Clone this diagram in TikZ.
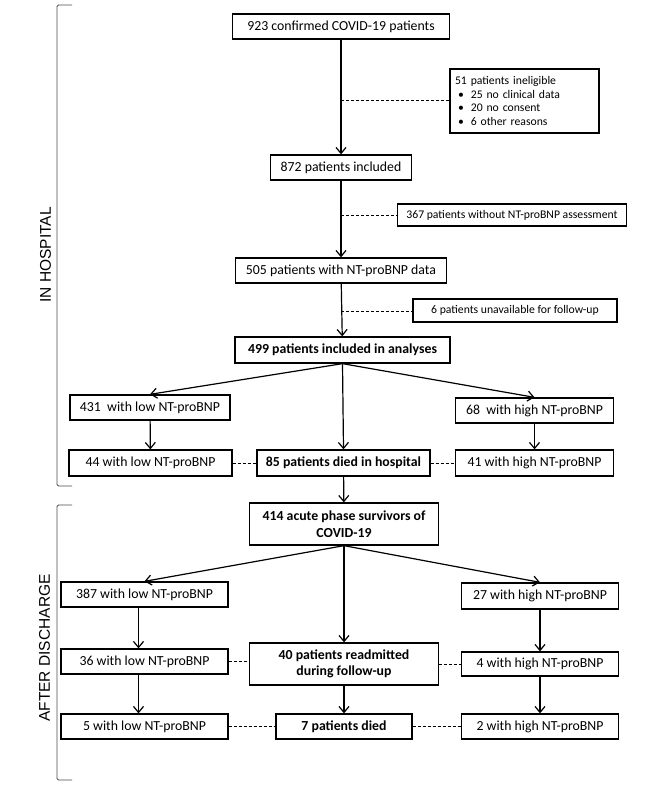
\documentclass[tikz,border=0pt]{standalone}
\usepackage{fontspec}
\setmainfont{Carlito}
\newfontfamily\sidefont{Liberation Sans}
\usetikzlibrary{arrows.meta}

\begin{document}
\begin{tikzpicture}[x=1pt,y=-1pt,
    box/.style={draw,line width=1.3pt,inner sep=2pt,minimum height=25pt,
      font=\fontsize{13.8}{16.5}\selectfont},
    smallbox/.style={box,minimum height=22pt,font=\fontsize{11.7}{13.8}\selectfont},
    arr/.style={line width=1.2pt,-{Straight Barb[length=6pt,width=10pt]}},
    dashline/.style={line width=0.8pt,dash pattern=on 3pt off 2pt},
    brk/.style={line width=0.9pt,gray!60!black,rounded corners=1.5pt},
    side/.style={rotate=90,font=\sidefont\fontsize{15.5}{18}\selectfont}]
      \useasboundingbox (0,0) rectangle (669,791);
      \draw [brk] (72,5) -- (57,5) -- (57,486) -- (72,486);
      \draw [brk] (72,505) -- (57,505) -- (57,780) -- (72,780);
      \node [side] (hosp) at (45.5,255) {IN HOSPITAL};
      \node [side] (disc) at (44.5,648) {AFTER DISCHARGE};
      \node [box,minimum width=217.5pt] (n923) at (341,26.5) {923 confirmed COVID-19 patients};
      \node [smallbox,text width=139pt,minimum height=64pt,align=left,inner sep=5pt] (inel) at (524.5,101)
        {51 patients ineligible\\
         \hspace{3pt}\textbullet\hspace{7pt}25 no clinical data\\
         \hspace{3pt}\textbullet\hspace{7pt}20 no consent\\
         \hspace{3pt}\textbullet\hspace{7pt}6 other reasons};
      \node [box,minimum width=140.5pt] (n872) at (341,167.5) {872 patients included};
      \node [smallbox,minimum width=228.4pt] (n367) at (512,215) {367 patients without NT-proBNP assessment};
      \node [box,minimum width=211.5pt] (n505) at (341,270.5) {505 patients with NT-proBNP data};
      \node [smallbox,minimum width=204pt,minimum height=23pt] (n6) at (515,310.5) {6 patients unavailable for follow-up};
      \node [box,minimum width=215pt,minimum height=26pt] (n499) at (342.5,350) {\textbf{499 patients included in analyses}};
      \node [box,minimum width=160pt] (low1) at (150,407.5) {431\ \ with low NT-proBNP};
      \node [box,minimum width=158pt] (high1) at (534.5,410.5) {68\ \ with high NT-proBNP};
      \node [box,minimum width=163pt,minimum height=26pt] (lowd) at (150.5,463) {44 with low NT-proBNP};
      \node [box,minimum width=173pt,minimum height=26pt] (died) at (343.5,463) {\textbf{85 patients died in hospital}};
      \node [box,minimum width=158pt,minimum height=26pt] (highd) at (534.5,463) {41 with high NT-proBNP};
      \node [box,minimum width=188.4pt,minimum height=42pt,align=center] (surv) at (344,524)
        {\textbf{414 acute phase survivors of}\\\textbf{COVID-19}};
      \node [box,minimum width=167pt] (low2) at (144.5,594.5) {387 with low NT-proBNP};
      \node [box,minimum width=157.6pt,minimum height=26pt] (high2) at (540,596) {27 with high NT-proBNP};
      \node [box,minimum width=167pt] (lowr) at (144.5,661.5) {36 with low NT-proBNP};
      \node [box,minimum width=188.4pt,minimum height=42pt,align=center] (readm) at (344,664)
        {\textbf{40 patients readmitted}\\\textbf{during follow-up}};
      \node [box,minimum width=157.6pt,minimum height=24pt] (highr) at (540,664) {4 with high NT-proBNP};
      \node [box,minimum width=167pt] (lowx) at (144.5,726.5) {5 with low NT-proBNP};
      \node [box,minimum width=136pt] (dead) at (344,726.5) {\textbf{7 patients died}};
      \node [box,minimum width=157.6pt] (highx) at (540,726.5) {2 with high NT-proBNP};
      \coordinate (b1) at (341,100);
      \coordinate (b2) at (341,215);
      \coordinate (b3) at (341,311);
      \draw [arr] (n923) -- (n872);
      \draw [arr] (n872) -- (n505);
      \draw [arr] (n505) -- (n499);
      \draw [dashline] (b1) -- (b1 -| inel.west);
      \draw [dashline] (b2) -- (n367.west);
      \draw [dashline] (b3) -- (b3 -| n6.west);
      \draw [arr] (n499.south) -- (low1.north);
      \draw [arr] (n499.south) -- (high1.north);
      \draw [arr] (n499.south) -- (died.north);
      \draw [arr] (low1) -- (lowd);
      \draw [arr] (high1) -- (highd);
      \draw [dashline] (lowd) -- (died);
      \draw [dashline] (died) -- (highd);
      \draw [arr] (died) -- (surv);
      \draw [arr] (surv.south) -- (low2.north);
      \draw [arr] (surv.south) -- (high2.north);
      \draw [arr] (surv) -- (readm);
      \draw [arr] ([xshift=-6pt]low2.south) -- ([xshift=-6pt]lowr.north);
      \draw [arr] ([xshift=-6pt]lowr.south) -- ([xshift=-6pt]lowx.north);
      \draw [arr] (high2) -- (highr);
      \draw [arr] (highr) -- (highx);
      \draw [arr] (readm) -- (dead);
      \draw [dashline] (lowr.east) -- (lowr.east -| readm.west);
      \draw [dashline] (readm) -- (highr);
      \draw [dashline] (lowx) -- (dead);
      \draw [dashline] (dead) -- (highx);
\end{tikzpicture}
\end{document}
